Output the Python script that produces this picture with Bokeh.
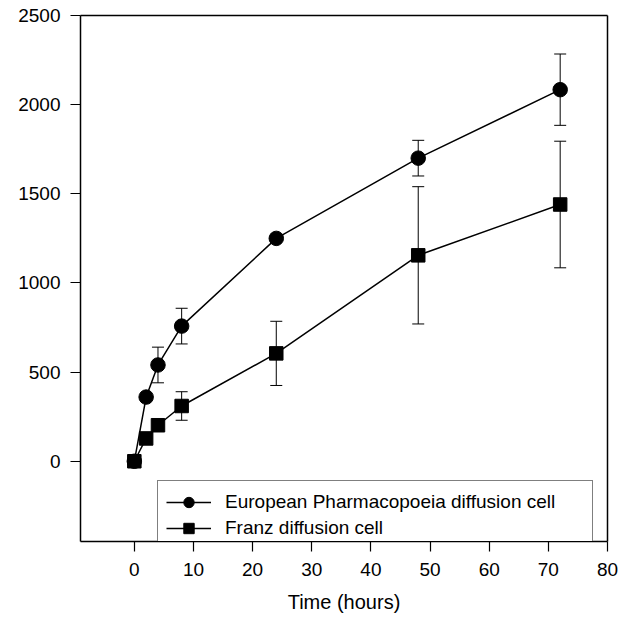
from bokeh.plotting import figure
from bokeh.models import (ColumnDataSource, Range1d, FixedTicker, LinearAxis,
                          Whisker, TeeHead, Legend, LegendItem)
from bokeh.embed import file_html
from bokeh.resources import INLINE

# Cumulative amount released vs time, mean with SD error bars
time_h = [0, 2, 4, 8, 24, 48, 72]
ep_mean = [0, 360, 540, 758, 1250, 1700, 2084]
ep_sd = [0, 0, 100, 100, 0, 100, 200]
franz_mean = [0, 128, 202, 310, 605, 1155, 1440]
franz_sd = [0, 0, 0, 80, 180, 385, 355]

x_ticks = [0, 10, 20, 30, 40, 50, 60, 70, 80]
y_ticks = [0, 500, 1000, 1500, 2000, 2500]

ep_label = "European Pharmacopoeia diffusion cell"
franz_label = "Franz diffusion cell"

FONT = "Liberation Sans"


def make_source(t, mean, sd):
    return ColumnDataSource(dict(
        t=t, y=mean,
        lo=[m - s for m, s in zip(mean, sd)],
        hi=[m + s for m, s in zip(mean, sd)],
    ))


ep_src = make_source(time_h, ep_mean, ep_sd)
franz_src = make_source(time_h, franz_mean, franz_sd)

p = figure(width=636, height=624, output_backend="svg", toolbar_location=None,
           x_range=Range1d(-9.1, 80), y_range=Range1d(-450, 2500),
           min_border_left=80, min_border_right=29,
           min_border_top=15, min_border_bottom=83,
           x_axis_label="Time (hours)")
p.outline_line_color = None
p.grid.visible = False
p.background_fill_color = "white"
p.border_fill_color = "white"

p.xaxis.ticker = FixedTicker(ticks=x_ticks)
p.yaxis.ticker = FixedTicker(ticks=y_ticks)

for ax in (p.xaxis[0], p.yaxis[0]):
    ax.axis_line_color = "black"
    ax.axis_line_width = 1.5
    ax.major_tick_line_color = "black"
    ax.major_tick_line_width = 1.2
    ax.major_tick_in = 0
    ax.major_tick_out = 10
    ax.minor_tick_line_color = None
    ax.major_label_text_font = FONT
    ax.major_label_text_font_size = "19px"
    ax.major_label_text_color = "black"

p.yaxis.major_label_standoff = 10
p.xaxis.major_label_standoff = 11
p.xaxis.axis_label_text_font = FONT
p.xaxis.axis_label_text_font_size = "20px"
p.xaxis.axis_label_text_font_style = "normal"
p.xaxis.axis_label_text_color = "black"
p.xaxis.axis_label_standoff = 12

# plain frame lines on the top and right edges
for side in ("right", "above"):
    frame_ax = LinearAxis(ticker=FixedTicker(ticks=[]), major_tick_out=0,
                          major_tick_in=0, minor_tick_line_color=None,
                          major_label_text_font_size="0px",
                          axis_line_color="black", axis_line_width=1.5)
    p.add_layout(frame_ax, side)


def error_bars(src):
    return Whisker(base="t", upper="hi", lower="lo", source=src,
                   line_color="black", line_width=1,
                   upper_head=TeeHead(size=12, line_color="black", line_width=1),
                   lower_head=TeeHead(size=12, line_color="black", line_width=1))


p.add_layout(error_bars(ep_src))
p.add_layout(error_bars(franz_src))

ep_line = p.line("t", "y", source=ep_src, line_color="black", line_width=1.5)
ep_pts = p.scatter("t", "y", source=ep_src, marker="circle", size=14.5,
                   fill_color="black", line_color="black")
franz_line = p.line("t", "y", source=franz_src, line_color="black", line_width=1.5)
franz_pts = p.scatter("t", "y", source=franz_src, marker="square", size=13.5,
                      fill_color="black", line_color="black")

legend = Legend(items=[
    LegendItem(label=ep_label, renderers=[ep_line, ep_pts]),
    LegendItem(label=franz_label, renderers=[franz_line, franz_pts]),
], location=(77, -9))
legend.border_line_color = "black"
legend.border_line_width = 1.5
legend.background_fill_color = "white"
legend.background_fill_alpha = 1.0
legend.label_text_font = FONT
legend.label_text_font_size = "19px"
legend.label_text_color = "black"
legend.glyph_width = 45
legend.glyph_height = 26
legend.label_height = 26
legend.spacing = 0
legend.padding = 8
legend.label_standoff = 14
legend.label_width = 359
legend.margin = 0
p.add_layout(legend)

open("out.html", "w").write(file_html(p, INLINE))
